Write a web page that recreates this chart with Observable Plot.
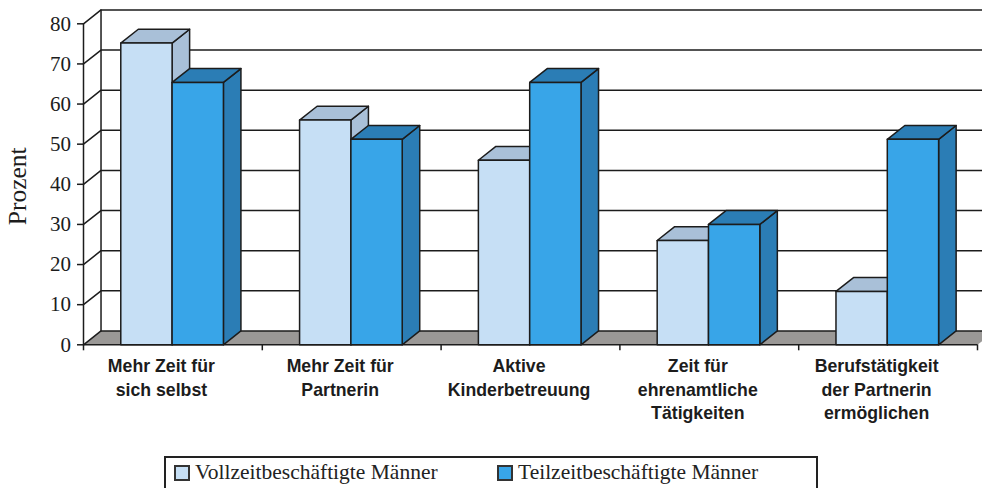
<!DOCTYPE html>
<html lang="de">
<head>
<meta charset="utf-8">
<script src="https://cdn.jsdelivr.net/npm/d3@7"></script>
<script src="https://cdn.jsdelivr.net/npm/@observablehq/plot@0.6"></script>
<style>
  html, body { margin: 0; padding: 0; background: #fff; overflow: hidden; }
  #chart { position: relative; width: 982px; height: 488px; overflow: hidden; }
  #legend { position: absolute; left: 164px; top: 456px; width: 654px; height: 60px; box-sizing: border-box;
    border: 2px solid #222; font: 21.5px "Liberation Serif", serif; color: #222; }
  #legend span.i { position: absolute; top: 2px; white-space: nowrap; }
  #legend i { position: absolute; top: 7px; width: 12px; height: 12px; border: 2px solid #333; }
</style>
</head>
<body>
<div id="chart"></div>
<script>
const categories = [
  "Mehr Zeit für\nsich selbst",
  "Mehr Zeit für\nPartnerin",
  "Aktive\nKinderbetreuung",
  "Zeit für\nehrenamtliche\nTätigkeiten",
  "Berufstätigkeit\nder Partnerin\nermöglichen"
];
const vollzeit = [75.2, 56, 46, 26, 13.3];
const teilzeit = [65.4, 51.2, 65.4, 30, 51.2];
const seriesNames = ["Vollzeitbeschäftigte Männer", "Teilzeitbeschäftigte Männer"];
const yTicks = [0, 10, 20, 30, 40, 50, 60, 70, 80];
const colors = {
  voll: { front: "#c6dff5", side: "#a9c0d8", top: "#a9c0d8" },
  teil: { front: "#38a5e8", side: "#2b7db5", top: "#2b7db5" },
  floor: "#9a9896", ink: "#1c1c1c"
};
// depth of the 3D box in data units, bar geometry as a fraction of one category
const depthX = 0.098, depthY = 3.45;
const barStart = 0.2085, barWidth = 0.287;
const xEnd = categories.length;

const poly = (id, fill, pts) =>
  [...pts, pts[0]].map(([x, y]) => ({ id, fill, x, y }));

function barFaces(values, c, offset, name) {
  return values.flatMap((v, i) => {
    const x0 = i + barStart + offset * barWidth, x1 = x0 + barWidth;
    return [
      ...poly(`${name}${i}side`, c.side, [[x1, 0], [x1 + depthX, depthY], [x1 + depthX, v + depthY], [x1, v]]),
      ...poly(`${name}${i}top`, c.top, [[x0, v], [x1, v], [x1 + depthX, v + depthY], [x0 + depthX, v + depthY]]),
      ...poly(`${name}${i}front`, c.front, [[x0, 0], [x1, 0], [x1, v], [x0, v]])
    ];
  });
}

const floor = poly("floor", colors.floor, [[0, 0], [xEnd, 0], [xEnd + depthX, depthY], [depthX, depthY]]);
const grid = yTicks.flatMap(t => [
  { id: t, x: 0, y: t }, { id: t, x: depthX, y: t + depthY }, { id: t, x: xEnd + depthX, y: t + depthY }
]);
const backWall = [{ x: depthX, y: depthY }, { x: depthX, y: 80 + depthY }];
const faces = [...barFaces(vollzeit, colors.voll, 0, "v"), ...barFaces(teilzeit, colors.teil, 1, "t")];

const chart = Plot.plot({
  width: 982, height: 448,
  marginLeft: 83, marginRight: 5, marginTop: 23.3, marginBottom: 103.7,
  style: { background: "transparent" },
  x: { domain: [0, xEnd], axis: null },
  y: { domain: [0, 80], axis: null },
  marks: [
    Plot.line(floor, { x: "x", y: "y", z: "id", fill: "fill", stroke: null }),
    Plot.line(grid, { x: "x", y: "y", z: "id", stroke: colors.ink, strokeWidth: 1.5, curve: "linear" }),
    Plot.line(backWall, { x: "x", y: "y", stroke: colors.ink, strokeWidth: 1.5 }),
    Plot.ruleX([0], { y1: 0, y2: 80, stroke: colors.ink, strokeWidth: 1.5 }),
    Plot.line(faces, { x: "x", y: "y", z: "id", fill: "fill", stroke: colors.ink, strokeWidth: 1.5, strokeLinejoin: "round" }),
    Plot.ruleY([0], { x1: 0, x2: xEnd, stroke: colors.ink, strokeWidth: 1.5 }),
    Plot.axisY({
      ticks: yTicks, tickSize: 6, tickPadding: 6.5, stroke: colors.ink, strokeWidth: 1.5, strokeOpacity: 1,
      fontSize: 21, fontFamily: "Liberation Serif", fill: colors.ink, label: null, tickFormat: d => d
    }),
    Plot.axisX({
      ticks: d3.range(xEnd + 1), tickSize: 6, stroke: colors.ink, strokeWidth: 1.5, strokeOpacity: 1,
      tickFormat: () => "", label: null
    }),
    Plot.text(categories, {
      x: (d, i) => i + 0.5, y: () => 0, text: d => d, dx: -11.5, dy: 10.5, lineAnchor: "top", lineHeight: 1.33,
      fontSize: 17.7, fontWeight: "bold", fontFamily: "Liberation Sans", fill: colors.ink
    }),
    Plot.text(["Prozent"], {
      frameAnchor: "left", dx: -65.5, dy: 2, rotate: -90, textAnchor: "middle",
      fontSize: 25.5, fontFamily: "Liberation Serif", fill: colors.ink
    })
  ]
});

const holder = document.getElementById("chart");
holder.appendChild(chart);

const legend = document.createElement("div");
legend.id = "legend";
const entries = [
  { name: seriesNames[0], swatch: colors.voll.front, sx: 8, tx: 29 },
  { name: seriesNames[1], swatch: colors.teil.front, sx: 331, tx: 352 }
];
for (const e of entries) {
  const sw = document.createElement("i");
  sw.style.left = e.sx + "px";
  sw.style.background = e.swatch;
  const label = document.createElement("span");
  label.className = "i";
  label.style.left = e.tx + "px";
  label.textContent = e.name;
  legend.append(sw, label);
}
holder.appendChild(legend);
</script>
</body>
</html>
